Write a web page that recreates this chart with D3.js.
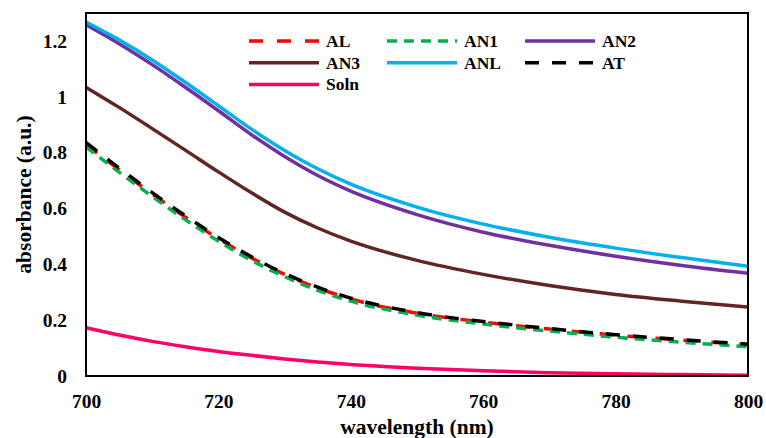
<!DOCTYPE html>
<html>
<head>
<meta charset="utf-8">
<script src="https://cdn.jsdelivr.net/npm/d3@7"></script>
<style>
  body { margin: 0; background: #fff; }
  svg { display: block; }
  svg text { font-family: "Liberation Serif", "DejaVu Serif", "Times New Roman", serif; font-weight: bold; fill: #000; }
</style>
</head>
<body>
<div id="chart"></div>
<script>
var W = 766, H = 438
var margin = { top: 13, right: 18, bottom: 62, left: 86 }
var width = W - margin.left - margin.right
var height = H - margin.top - margin.bottom

// wavelength (nm)
var wavelength = [700, 705, 710, 715, 720, 725, 730, 735, 740, 750, 760, 770, 780, 790, 800]

// absorbance (a.u.)
var AL   = [0.829, 0.739, 0.652, 0.569, 0.492, 0.423, 0.364, 0.315, 0.276, 0.225, 0.193, 0.168, 0.146, 0.128, 0.112]
var AN1  = [0.820, 0.730, 0.643, 0.560, 0.483, 0.414, 0.356, 0.307, 0.268, 0.218, 0.186, 0.161, 0.139, 0.121, 0.105]
var AN2  = [1.258, 1.190, 1.115, 1.034, 0.950, 0.864, 0.786, 0.718, 0.662, 0.578, 0.515, 0.468, 0.429, 0.396, 0.368]
var AN3  = [1.034, 0.962, 0.886, 0.809, 0.731, 0.656, 0.587, 0.530, 0.483, 0.414, 0.364, 0.324, 0.292, 0.268, 0.247]
var ANL  = [1.268, 1.204, 1.132, 1.052, 0.968, 0.884, 0.808, 0.742, 0.687, 0.605, 0.544, 0.497, 0.458, 0.424, 0.393]
var AT   = [0.836, 0.745, 0.657, 0.574, 0.496, 0.427, 0.367, 0.318, 0.279, 0.227, 0.195, 0.170, 0.148, 0.130, 0.114]
var Soln = [0.173, 0.147, 0.124, 0.105, 0.088, 0.074, 0.061, 0.050, 0.041, 0.028, 0.019, 0.012, 0.008, 0.005, 0.003]

var xTicks = [700, 720, 740, 760, 780, 800]
var yTicks = [0, 0.2, 0.4, 0.6, 0.8, 1, 1.2]

var series = [
  { name: "AL",   values: AL,   color: "#FF0000", dash: "14,14" },
  { name: "AN1",  values: AN1,  color: "#00B050", dash: "10,7" },
  { name: "AN2",  values: AN2,  color: "#7030A0", dash: null },
  { name: "AN3",  values: AN3,  color: "#632523", dash: null },
  { name: "ANL",  values: ANL,  color: "#00B0F0", dash: null },
  { name: "AT",   values: AT,   color: "#000000", dash: "14,13" },
  { name: "Soln", values: Soln, color: "#FF0066", dash: null }
]

var svg = d3.select("#chart").append("svg")
  .attr("width", W)
  .attr("height", H)

var g = svg.append("g")
  .attr("transform", "translate(" + margin.left + "," + margin.top + ")")

var x = d3.scaleLinear().domain([700, 800]).range([0, width])
var y = d3.scaleLinear().domain([0, 1.3]).range([height, 0])

// lines
var line = d3.line()
  .x(d => x(d[0]))
  .y(d => y(d[1]))
  .curve(d3.curveMonotoneX)

series.forEach(function (s) {
  g.append("path")
    .datum(wavelength.map((w, i) => [w, s.values[i]]))
    .attr("d", line)
    .attr("fill", "none")
    .attr("stroke", s.color)
    .attr("stroke-width", 3.5)
    .attr("stroke-dasharray", s.dash)
})

// plot frame
g.append("rect")
  .attr("x", 0).attr("y", 0)
  .attr("width", width).attr("height", height)
  .attr("fill", "none")
  .attr("stroke", "#000")
  .attr("stroke-width", 2)

// axes (labels only, no tick marks)
var xAxis = g.append("g")
  .attr("transform", "translate(0," + height + ")")
  .call(d3.axisBottom(x).tickValues(xTicks).tickSize(0).tickPadding(18).tickFormat(d3.format("d")))
xAxis.attr("font-family", null)
xAxis.select(".domain").remove()
xAxis.selectAll("text").attr("font-size", 19.5)

var yAxis = g.append("g")
  .call(d3.axisLeft(y).tickValues(yTicks).tickSize(0).tickPadding(19).tickFormat(d => d3.format("")(d)))
yAxis.attr("font-family", null)
yAxis.select(".domain").remove()
yAxis.selectAll("text").attr("font-size", 19.5)

// axis titles
svg.append("text")
  .attr("x", margin.left + width / 2)
  .attr("y", 434)
  .attr("text-anchor", "middle")
  .attr("font-size", 21.5)
  .text("wavelength (nm)")

svg.append("text")
  .attr("transform", "translate(31," + (margin.top + height / 2) + ") rotate(-90)")
  .attr("text-anchor", "middle")
  .attr("font-size", 21.5)
  .text("absorbance (a.u.)")

// legend, three columns
var legend = svg.append("g")
  .attr("transform", "translate(249,41)")

var item = legend.selectAll(".legend")
  .data(series)
  .enter().append("g")
  .attr("class", "legend")
  .attr("transform", (d, i) => "translate(" + (i % 3) * 138 + "," + Math.floor(i / 3) * 21.7 + ")")

item.append("line")
  .attr("x1", 0).attr("x2", 70)
  .attr("y1", 0).attr("y2", 0)
  .attr("stroke", d => d.color)
  .attr("stroke-width", 3.5)
  .attr("stroke-dasharray", d => d.dash)

item.append("text")
  .attr("x", 77)
  .attr("y", 6)
  .attr("font-size", 17.5)
  .text(d => d.name)
</script>
</body>
</html>
